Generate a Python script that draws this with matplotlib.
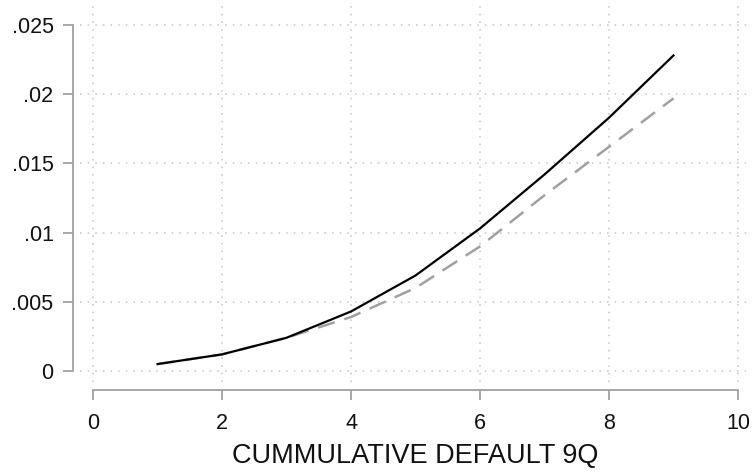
import matplotlib
matplotlib.use("Agg")
import matplotlib.pyplot as plt

quarters = [1, 2, 3, 4, 5, 6, 7, 8, 9]
solid_vals = [0.0005, 0.0012, 0.0024, 0.0043, 0.0069, 0.0103, 0.0142, 0.0183, 0.0228]
dashed_vals = [0.0005, 0.0012, 0.0024, 0.0039, 0.0060, 0.0090, 0.0127, 0.0162, 0.0197]
xticks = [0, 2, 4, 6, 8, 10]
yticks = [0, 0.005, 0.01, 0.015, 0.02, 0.025]
ytick_labels = ["0", ".005", ".01", ".015", ".02", ".025"]
xlabel = "CUMMULATIVE DEFAULT 9Q"

plt.rcParams['font.family'] = ['Liberation Sans', 'DejaVu Sans']

W, H = 755, 476
fig = plt.figure(figsize=(W / 100, H / 100), dpi=100)
ax_l, ax_r, ax_t, ax_b = 80, 750, 3, 382
ax = fig.add_axes([ax_l / W, 1 - ax_b / H, (ax_r - ax_l) / W, (ax_b - ax_t) / H])

ax.plot(quarters, dashed_vals, color='#a0a0a0', lw=1.8, dashes=(7, 4), zorder=3)
ax.plot(quarters, solid_vals, color='black', lw=1.6, zorder=4)

# pixel mapping: x 0->93, 10->738 ; y 0->371, .025->25
xs = (738 - 93) / 10
ys = (371 - 25) / 0.025
ax.set_xlim(-(93 - ax_l) / xs, 10 + (ax_r - 738) / xs)
ax.set_ylim(-(ax_b - 371) / ys, 0.025 + (25 - ax_t) / ys)

ax.set_xticks(xticks)
ax.set_xticklabels([str(t) for t in xticks])
ax.set_yticks(yticks)
ax.set_yticklabels(ytick_labels)

for s in ['top', 'right']:
    ax.spines[s].set_visible(False)
ax.spines['left'].set_position(('outward', 5))
ax.spines['bottom'].set_position(('outward', 6))
ax.spines['left'].set_bounds(0, 0.025)
ax.spines['bottom'].set_bounds(0, 10)
for s in ['left', 'bottom']:
    ax.spines[s].set_color('#a0a0a0')
    ax.spines[s].set_linewidth(1.3)

ax.tick_params(axis='both', direction='out', length=7, width=1.3, color='#a0a0a0',
               labelsize=15.5, labelcolor='#111111')
ax.tick_params(axis='y', pad=7)
ax.tick_params(axis='x', pad=9)

ax.grid(True, color='#c4c4c4', linestyle=(0, (1, 4)), linewidth=1.1)
ax.set_axisbelow(True)

ax.set_xlabel(xlabel, fontsize=19.5, color='#111111', labelpad=7)

fig.savefig('out.png', dpi=100)
